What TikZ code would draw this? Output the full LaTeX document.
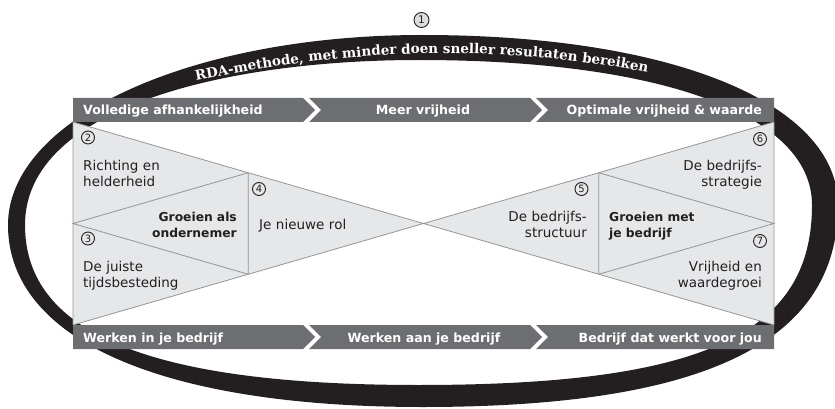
\documentclass[tikz,border=0pt]{standalone}
\usepackage{fontspec}
\setmainfont{DejaVu Sans}
\newfontfamily\slabfam{DejaVu Serif}
\usetikzlibrary{calc,decorations.text}
\definecolor{ink}{HTML}{231F20}
\definecolor{bannergray}{HTML}{6D6E71}
\definecolor{trifill}{HTML}{E6E7E8}
\definecolor{triline}{HTML}{939598}
\definecolor{numfill}{HTML}{DCDDDE}
\newcommand\arcfont{\slabfam\bfseries\fontsize{13.5}{13.5}\selectfont}
\tikzset{
  bandfill/.style={fill=ink, even odd rule},
  banner/.style={fill=bannergray},
  tri/.style={fill=trifill, draw=triline, line width=0.8pt, line join=round},
  triln/.style={draw=triline, line width=0.8pt},
  bantext/.style={text=white, font=\bfseries\fontsize{12.6}{14}\selectfont, inner sep=0pt},
  body/.style={text=ink, font=\fontsize{13.5}{16.6}\selectfont, inner sep=0pt, text width=140pt},
  bodyb/.style={text=ink, font=\bfseries\fontsize{12.3}{16.2}\selectfont, inner sep=0pt, text width=140pt},
  num/.style={circle, draw=ink, fill=trifill, line width=0.9pt, inner sep=0pt, minimum size=13pt, font=\fontsize{10}{10}\selectfont, text=ink},
}
\begin{document}
\begin{tikzpicture}[x=1pt,y=-1pt]
\useasboundingbox (0,0) rectangle (835,409);
% band (brush-like ring)
\fill[bandfill]
  (422.5,35) .. controls (671.8,35) and (838,103) .. (838,205)
  .. controls (838,342.4) and (705,407) .. (422.5,407)
  .. controls (161.4,407) and (8,339.7) .. (8,225)
  .. controls (8,118.6) and (190.4,35) .. (422.5,35) -- cycle
  (418.5,60) .. controls (662.5,60) and (812,115.1) .. (812,205)
  .. controls (812,334.6) and (701.8,385) .. (418.5,385)
  .. controls (151,385) and (25,333.8) .. (25,225)
  .. controls (25,106.2) and (229.6,60) .. (418.5,60) -- cycle;
% arc text
\path[decorate, decoration={text along path, text align=left, text color=white,
  text={|\arcfont|RDA-methode, met minder doen sneller resultaten bereiken}}]
  plot[smooth, tension=0.6] coordinates {(196,80.5) (300,63) (421,53.5) (540,57.5) (650,73) (720,93)};
\node[num, fill=numfill, minimum size=15pt, font=\fontsize{10.5}{10.5}\selectfont] (n1) at (421.5,20) {1};
% coordinates
\coordinate (TL) at (73,122);
\coordinate (BL) at (73,325);
\coordinate (TR) at (774,122);
\coordinate (BR) at (774,325);
\coordinate (C) at (423.5,223.5);
\coordinate (ML) at (73,223.5);
\coordinate (MR) at (774,223.5);
\coordinate (LT) at ($(TL)!0.5!(C)$);
\coordinate (LB) at ($(BL)!0.5!(C)$);
\coordinate (RT) at ($(TR)!0.5!(C)$);
\coordinate (RB) at ($(BR)!0.5!(C)$);
\path[tri] (TL) -- (C) -- (BL) -- cycle;
\path[tri] (TR) -- (C) -- (BR) -- cycle;
\draw[triln] (LT) -- (LB) (LT) -- (ML) -- (LB);
\draw[triln] (RT) -- (RB) (RT) -- (MR) -- (RB);
% banners top
\fill[banner] (73,98) -- (303,98) -- (315,110) -- (303,122) -- (73,122) -- cycle;
\fill[banner] (309,98) -- (530,98) -- (542,110) -- (530,122) -- (309,122) -- (321,110) -- cycle;
\fill[banner] (536,98) -- (774,98) -- (774,122) -- (536,122) -- (548,110) -- cycle;
% banners bottom
\fill[banner] (73,325) -- (303,325) -- (315,337) -- (303,349) -- (73,349) -- cycle;
\fill[banner] (309,325) -- (530,325) -- (542,337) -- (530,349) -- (309,349) -- (321,337) -- cycle;
\fill[banner] (536,325) -- (774,325) -- (774,349) -- (536,349) -- (548,337) -- cycle;
% banner texts
\node[bantext, anchor=base west] (b1) at (83,115) {Volledige afhankelijkheid};
\node[bantext, anchor=base] (b2) at (423,115) {Meer vrijheid};
\node[bantext, anchor=base east] (b3) at (762,115) {Optimale vrijheid \& waarde};
\node[bantext, anchor=base west] (b4) at (83,342) {Werken in je bedrijf};
\node[bantext, anchor=base] (b5) at (424,342) {Werken aan je bedrijf};
\node[bantext, anchor=base east] (b6) at (762,342) {Bedrijf dat werkt voor jou};
% numbers
\node[num] (n2) at (88,137.5) {2};
\node[num] (n3) at (88,238.5) {3};
\node[num] (n4) at (259,189) {4};
\node[num] (n5) at (581.5,189) {5};
\node[num] (n6) at (760,139) {6};
\node[num] (n7) at (760,241) {7};
% body texts
\node[body, align=left, anchor=base west] (t2) at (83,170) {Richting en\\helderheid};
\node[body, align=left, anchor=base west] (t3) at (83,271) {De juiste\\tijdsbesteding};
\node[bodyb, align=right, anchor=base east] (g1) at (237,221) {Groeien als\\ondernemer};
\node[body, align=left, anchor=base west] (t4) at (259,229) {Je nieuwe rol};
\node[body, align=right, anchor=base east] (t5) at (587,221) {De bedrijfs-\\structuur};
\node[bodyb, align=left, anchor=base west] (g2) at (609,221) {Groeien met\\je bedrijf};
\node[body, align=right, anchor=base east] (t6) at (762,170) {De bedrijfs-\\strategie};
\node[body, align=right, anchor=base east] (t7) at (762,271) {Vrijheid en\\waardegroei};
\end{tikzpicture}
\end{document}
